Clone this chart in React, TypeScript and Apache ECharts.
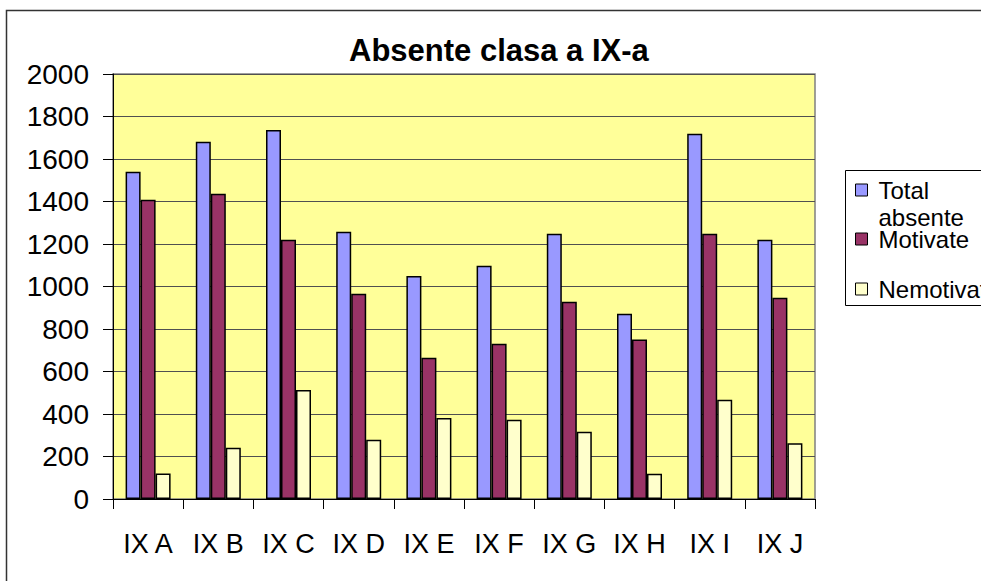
import React, { useEffect, useRef } from "react";
import * as echarts from "echarts";

const categories = ["IX A", "IX B", "IX C", "IX D", "IX E", "IX F", "IX G", "IX H", "IX I", "IX J"];
const totalAbsente = [1540, 1681, 1736, 1258, 1050, 1098, 1248, 872, 1719, 1220];
const motivate = [1408, 1437, 1220, 966, 665, 731, 928, 751, 1248, 947];
const nemotivate = [120, 241, 513, 279, 381, 373, 317, 119, 467, 262];
const seriesNames = ["Total absente", "Motivate", "Nemotivate"];
const titleText = "Absente clasa a IX-a";

const FONT = "'Liberation Sans', Arial, sans-serif";

export default function App() {
  const ref = useRef<HTMLDivElement>(null);
  useEffect(() => {
    if (!ref.current) return;
    const chart = echarts.init(ref.current, null, { renderer: "svg" });
    const barStyle = (color: string) => ({ color, borderColor: "#000", borderWidth: 1.5 });
    const legendBase = {
      orient: "vertical",
      left: 855,
      padding: 0,
      icon: "rect",
      itemWidth: 12,
      itemHeight: 12,
      itemStyle: { borderColor: "#000", borderWidth: 1 },
      textStyle: { fontSize: 24, lineHeight: 27, color: "#000", fontFamily: FONT, padding: [0, 0, 0, 6] },
      selectedMode: false,
    };
    chart.setOption({
      animation: false,
      backgroundColor: "#fff",
      title: {
        text: titleText,
        left: 349,
        top: 35,
        padding: 0,
        textStyle: { fontSize: 31, fontWeight: "bold", color: "#000", fontFamily: FONT },
      },
      legend: [
        {
          ...legendBase,
          top: 149.5,
          data: [seriesNames[0]],
          formatter: () => " \nTotal\nabsente",
        },
        { ...legendBase, top: 225.5, data: [seriesNames[1]] },
        { ...legendBase, top: 275.5, data: [seriesNames[2]] },
      ],
      graphic: [
        {
          type: "rect",
          shape: { x: 6.5, y: 10.5, width: 1100, height: 700 },
          style: { fill: "none", stroke: "#333", lineWidth: 1.5 },
          silent: true,
          z: -1,
        },
        {
          type: "rect",
          shape: { x: 845.5, y: 170.5, width: 300, height: 135 },
          style: { fill: "none", stroke: "#000", lineWidth: 1 },
          silent: true,
        },
      ],
      grid: {
        left: 113,
        top: 74,
        right: 166,
        bottom: 82,
        containLabel: false,
        show: true,
        backgroundColor: "#FFFF99",
        borderColor: "#808080",
        borderWidth: 1.5,
      },
      xAxis: {
        type: "category",
        data: categories,
        axisLine: { lineStyle: { color: "#000", width: 1 } },
        axisTick: { show: true, length: 10, lineStyle: { color: "#000" } },
        axisLabel: { interval: 0, fontSize: 27, color: "#000", fontFamily: FONT, margin: 31, verticalAlign: "top" },
      },
      yAxis: {
        type: "value",
        min: 0,
        max: 2000,
        interval: 200,
        axisLine: { show: true, lineStyle: { color: "#000", width: 1 } },
        axisTick: { show: true, length: 10, lineStyle: { color: "#000" } },
        axisLabel: { fontSize: 28, color: "#000", fontFamily: FONT, margin: 24, formatter: (v: number) => String(v) },
        splitLine: { show: true, lineStyle: { color: "#505050", width: 1 } },
      },
      series: [
        { name: seriesNames[0], type: "bar", data: totalAbsente, barWidth: 15, barGap: "0%", itemStyle: barStyle("#9999FF") },
        { name: seriesNames[1], type: "bar", data: motivate, barWidth: 15, barGap: "0%", itemStyle: barStyle("#993366") },
        { name: seriesNames[2], type: "bar", data: nemotivate, barWidth: 15, barGap: "0%", itemStyle: barStyle("#FFFFCC") },
      ],
    });
    return () => chart.dispose();
  }, []);
  return (
    <div
      ref={ref}
      style={{ position: "fixed", left: 0, top: 0, width: 981, height: 581 }}
    />
  );
}
